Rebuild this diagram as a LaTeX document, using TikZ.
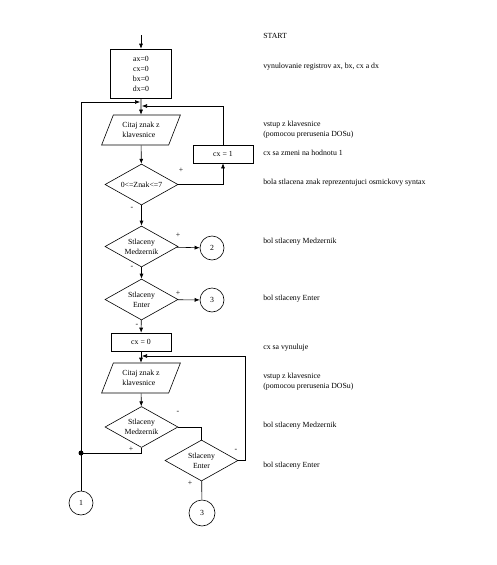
\documentclass[tikz,border=0pt]{standalone}
\usepackage{fontspec}
\setmainfont{Liberation Serif}
\usetikzlibrary{shapes.geometric,arrows.meta}
\tikzset{
  proc/.style={draw,rectangle,inner sep=0pt,align=center},
  vstup/.style={draw,trapezium,trapezium left angle=63,trapezium right angle=117,
    trapezium stretches=true,minimum width=79pt,minimum height=30pt,inner sep=0pt,align=left},
  rozh/.style={draw,diamond,aspect=1.78,minimum width=73pt,minimum height=41pt,inner sep=0pt,align=center},
  spoj/.style={draw,circle,minimum size=24pt,inner sep=0pt},
  pozn/.style={anchor=west,align=left,inner sep=0pt},
  znam/.style={inner sep=0pt},
  tok/.style={-{Latex[length=5pt,width=4pt]}},
}
\begin{document}
\begin{tikzpicture}[x=1pt,y=-1pt,line width=0.6pt,font=\fontsize{7.8}{10}\selectfont]
  \useasboundingbox (0,0) rectangle (497,565);
  % bloky
  \coordinate (zac) at (141,35);
  \node[proc,minimum width=61pt,minimum height=49pt] (nul) at (141,73.5) {ax=0\\cx=0\\bx=0\\dx=0};
  \node[vstup] (cit1) at (141,130) {Citaj znak z\\klavesnice};
  \node[rozh] (oct) at (141.5,184.5) {0<=Znak<=7};
  \node[proc,minimum width=60pt,minimum height=18pt] (cx1) at (223,154) {cx = 1};
  \node[rozh] (med1) at (141.5,246.5) {Stlaceny\\Medzernik};
  \node[spoj] (k2) at (212,248) {2};
  \node[rozh] (ent1) at (141.5,299.5) {Stlaceny\\Enter};
  \node[spoj] (k3a) at (212,300) {3};
  \node[proc,minimum width=60pt,minimum height=18pt] (cx0) at (141,342) {cx = 0};
  \node[vstup] (cit2) at (141,378) {Citaj znak z\\klavesnice};
  \node[rozh] (med2) at (141.5,427) {Stlaceny\\Medzernik};
  \node[rozh] (ent2) at (201.5,460.5) {Stlaceny\\Enter};
  \node[spoj,minimum size=26pt] (k3b) at (202,513) {3};
  \node[spoj] (k1) at (81,503) {1};
  \coordinate (uzol) at (81,453);
  \fill (uzol) circle (2.5pt);
  \coordinate (vl1) at (140,102);
  \coordinate (vp1) at (142,106);
  \coordinate (vp2) at (142,356);
  % spojnice
  \draw[tok] (zac) -- (nul.north);
  \draw[tok] (nul) -- (cit1);
  \draw[tok] (cit1) -- (oct);
  \draw[tok] (oct.east) -| (cx1.south);
  \draw[tok] (cx1.north) |- (vp1);
  \draw[tok] (uzol) |- (vl1);
  \draw[tok] (oct) -- (med1);
  \draw[tok] (med1) -- (k2);
  \draw[tok] (med1) -- (ent1);
  \draw[tok] (ent1) -- (k3a);
  \draw[tok] (ent1) -- (cx0);
  \draw[tok] (cx0) -- (cit2);
  \draw[tok] (cit2) -- (med2);
  \draw (med2.east) -| (ent2.north);
  \draw[tok] (ent2.east) -- ++(7,0) |- (vp2);
  \draw (med2.south) |- (uzol);
  \draw (uzol) -- (k1);
  \draw (ent2) -- (k3b);
  % znamienka
  \node[znam] (z1) at (181,170) {+};
  \node[znam] (z2) at (132,208) {-};
  \node[znam] (z3) at (178,235) {+};
  \node[znam] (z4) at (132,267) {-};
  \node[znam] (z5) at (178,293) {+};
  \node[znam] (z6) at (137,325) {-};
  \node[znam] (z7) at (178,412) {-};
  \node[znam] (z8) at (131,449) {+};
  \node[znam] (z9) at (236,450) {-};
  \node[znam] (z10) at (190,483) {+};
  % poznamky
  \node[pozn] (p1) at (263,36) {START};
  \node[pozn] (p2) at (263,67) {vynulovanie registrov ax, bx, cx a dx};
  \node[pozn] (p3) at (263,129.5) {vstup z klavesnice\\(pomocou prerusenia DOSu)};
  \node[pozn] (p4) at (263,153) {cx sa zmeni na hodnotu 1};
  \node[pozn] (p5) at (263,183) {bola stlacena znak reprezentujuci osmickovy syntax};
  \node[pozn] (p6) at (263,242) {bol stlaceny Medzernik};
  \node[pozn] (p7) at (263,299) {bol stlaceny Enter};
  \node[pozn] (p8) at (263,348) {cx sa vynuluje};
  \node[pozn] (p9) at (263,381.5) {vstup z klavesnice\\(pomocou prerusenia DOSu)};
  \node[pozn] (p10) at (263,426) {bol stlaceny Medzernik};
  \node[pozn] (p11) at (263,466) {bol stlaceny Enter};
\end{tikzpicture}
\end{document}
